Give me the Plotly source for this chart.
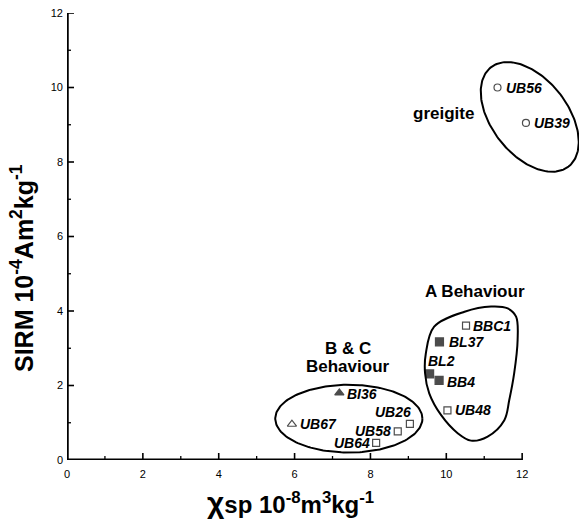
import numpy as np
import plotly.graph_objects as go

# Sample measurements: susceptibility (chi_sp, 1e-8 m3/kg) and SIRM (1e-4 Am2/kg)
samples = ["UB56", "UB39", "BBC1", "BL37", "BL2", "BB4", "UB48",
           "BI36", "UB67", "UB26", "UB58", "UB64"]
chi_sp = [11.35, 12.1, 10.52, 9.82, 9.56, 9.81, 10.03,
          7.18, 5.93, 9.04, 8.72, 8.15]
sirm = [10.0, 9.05, 3.61, 3.17, 2.31, 2.14, 1.33,
        1.80, 0.96, 0.97, 0.77, 0.46]
marker_kind = ["circle-open", "circle-open", "square-open", "square", "square", "square",
               "square-open", "triangle-up", "triangle-up-open", "square-open",
               "square-open", "square-open"]

# Outline of the "A Behaviour" group (closed loop)
blob_x = [9.68, 10.48, 11.18, 11.62, 11.84, 11.88, 11.79, 11.66, 11.53,
          11.09, 10.65, 10.30, 9.86, 9.55, 9.44, 9.46, 9.68]
blob_y = [3.58, 3.98, 4.12, 4.07, 3.85, 3.22, 2.33, 1.61, 1.07,
          0.63, 0.52, 0.72, 1.21, 1.79, 2.33, 2.86, 3.58]

x_ticks = [0, 2, 4, 6, 8, 10, 12]
y_ticks = [0, 2, 4, 6, 8, 10, 12]
minor_ticks = [1, 3, 5, 7, 9, 11]
axis_end = 12

W, H = 579, 532
L, R, T, B = 67, 0, 13, 72
plot_w = W - L - R
plot_h = H - T - B
px_per_x = 37.93
px_per_y = plot_h / 12.0
x_max = plot_w / px_per_x   # x range runs past 12 so the greigite envelope fits

FONT = "Liberation Sans, Arial, sans-serif"

fig = go.Figure()

t = np.linspace(0, 2 * np.pi, 200)

# greigite envelope: rotated ellipse (screen-pixel shape mapped to data units)
g_cx, g_cy, g_a, g_b, g_th = 12.2, 9.21, 63.0, 38.0, np.deg2rad(52)
dpx = g_a * np.cos(t) * np.cos(g_th) - g_b * np.sin(t) * np.sin(g_th)
dpy = g_a * np.cos(t) * np.sin(g_th) + g_b * np.sin(t) * np.cos(g_th)
fig.add_trace(go.Scatter(x=g_cx + dpx / px_per_x, y=g_cy - dpy / px_per_y,
                         mode="lines", line=dict(color="black", width=2),
                         hoverinfo="skip", showlegend=False))

# B & C envelope
bc_cx, bc_cy, bc_rx, bc_ry = 7.43, 1.11, 1.94, 0.91
fig.add_trace(go.Scatter(x=bc_cx + bc_rx * np.cos(t), y=bc_cy + bc_ry * np.sin(t),
                         mode="lines", line=dict(color="black", width=2),
                         hoverinfo="skip", showlegend=False))

# A envelope
fig.add_trace(go.Scatter(x=blob_x, y=blob_y, mode="lines",
                         line=dict(color="black", width=2, shape="spline", smoothing=1.0),
                         hoverinfo="skip", showlegend=False))

sizes = {"circle-open": 7, "square-open": 7, "square": 8,
         "triangle-up": 8, "triangle-up-open": 8}
fig.add_trace(go.Scatter(
    x=chi_sp, y=sirm, mode="markers", cliponaxis=False,
    marker=dict(symbol=marker_kind, size=[sizes[m] for m in marker_kind],
                color="black", line=dict(color="black", width=1.2)),
    hoverinfo="text", text=samples, showlegend=False))

# label placement: (x anchor, x shift px, y shift px)
placement = {
    "UB56": ("left", 6, 0), "UB39": ("left", 6, 0), "BBC1": ("left", 5, 0),
    "BL37": ("left", 8, 0), "BL2": ("left", -4, 13), "BB4": ("left", 6, -2),
    "UB48": ("left", 6, 0), "BI36": ("left", 6, -1), "UB67": ("left", 6, 0),
    "UB26": ("right", 3, 12), "UB58": ("right", -5, 0), "UB64": ("right", -4, 0),
}
for name, xv, yv in zip(samples, chi_sp, sirm):
    anc, xs, ys = placement[name]
    fig.add_annotation(x=xv, y=yv, text=f"<b><i>{name}</i></b>",
                       showarrow=False, xanchor=anc, yanchor="middle", xshift=xs, yshift=ys,
                       font=dict(family=FONT, size=14, color="black"))

# group titles
for txt, xv, yv in [("greigite", 9.92, 9.3), ("A Behaviour", 10.76, 4.52),
                    ("B &amp; C", 7.42, 3.0), ("Behaviour", 7.42, 2.5)]:
    fig.add_annotation(x=xv, y=yv, text=f"<b>{txt}</b>",
                       showarrow=False, xanchor="center", yanchor="middle",
                       font=dict(family=FONT, size=17, color="black"))

# axis titles
fig.add_annotation(xref="paper", yref="paper", x=(290 - L) / plot_w, y=(460 - 502) / plot_h,
                   text="<b><span style='font-size:30px'>χ</span>sp 10<sup>-8</sup>m<sup>3</sup>kg<sup>-1</sup></b>",
                   showarrow=False, xanchor="center", yanchor="middle",
                   font=dict(family=FONT, size=24, color="black"))
fig.add_annotation(xref="paper", yref="paper", x=(22 - L) / plot_w, y=(460 - 268) / plot_h,
                   text="<b>SIRM 10<sup>-4</sup>Am<sup>2</sup>kg<sup>-1</sup></b>",
                   showarrow=False, textangle=-90, xanchor="center", yanchor="middle",
                   font=dict(family=FONT, size=25, color="black"))

# axis lines (stop at 12) and inward tick marks of fixed pixel length
fig.add_shape(type="line", x0=0, y0=0, x1=axis_end, y1=0, line=dict(color="black", width=3))
fig.add_shape(type="line", x0=0, y0=0, x1=0, y1=axis_end, line=dict(color="black", width=3.5))
for vals, length, width in [(x_ticks, 7, 1.6), (minor_ticks, 4, 1.3)]:
    for v in vals:
        fig.add_shape(type="line", xref="x", yref="y", ysizemode="pixel", yanchor=0,
                      x0=v, x1=v, y0=0, y1=length, line=dict(color="black", width=width))
for vals, length, width in [(y_ticks, 7, 1.6), (minor_ticks, 4, 1.3)]:
    for v in vals:
        fig.add_shape(type="line", xref="x", yref="y", xsizemode="pixel", xanchor=0,
                      x0=0, x1=length, y0=v, y1=v, line=dict(color="black", width=width))

tickfont = dict(family=FONT, size=11, color="black")
fig.update_layout(
    width=W, height=H, margin=dict(l=L, r=R, t=T, b=B),
    plot_bgcolor="white", paper_bgcolor="white",
    font=dict(family=FONT, color="black"),
    xaxis=dict(range=[0, x_max], showgrid=False, zeroline=False, showline=False,
               ticks="", tickvals=x_ticks, ticktext=[str(v) for v in x_ticks],
               tickfont=tickfont, ticklabelstandoff=6),
    yaxis=dict(range=[0, 12], showgrid=False, zeroline=False, showline=False,
               ticks="", tickvals=y_ticks, ticktext=[str(v) for v in y_ticks],
               tickfont=tickfont, ticklabelstandoff=3),
)

fig.write_html("out.html")
